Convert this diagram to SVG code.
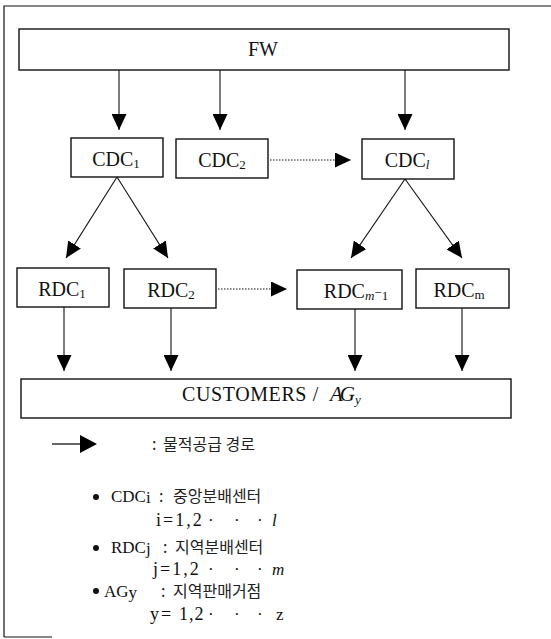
<svg xmlns="http://www.w3.org/2000/svg" width="551" height="639" viewBox="0 0 551 639">
<style>
.box{fill:#fff;stroke:#111;stroke-width:1.4}
.lbl{font-family:"Liberation Serif","Times New Roman",serif;font-size:20px;fill:#111;text-anchor:middle}
.sub{font-size:13px}
.it{font-style:italic}
.ln{stroke:#111;stroke-width:1.1;fill:none}
.dot{stroke:#111;stroke-width:1;stroke-dasharray:1.5 1.5;fill:none}
.lg{font-family:"Liberation Serif","Times New Roman",serif;font-size:17px;fill:#111}
.ko{font-family:"Noto Sans CJK KR","Noto Sans",sans-serif;font-size:16px;fill:#222}
.frame{stroke:#111;stroke-width:1.2;fill:none}
</style>
<defs>
<marker id="ah" markerUnits="userSpaceOnUse" markerWidth="16" markerHeight="15" refX="16" refY="7.5" orient="auto">
<path d="M0,0 L16,7.5 L0,15 z" fill="#000"/>
</marker>
</defs>
<rect width="551" height="639" fill="#fff"/>
<g id="frame">
<path class="frame" d="M4,637 L4,6 L551,6"/>
<path class="frame" d="M4,637 L52,637"/>
</g>
<g id="connectors">
<line class="ln" x1="119" y1="70" x2="119" y2="130" marker-end="url(#ah)"/>
<line class="ln" x1="220" y1="70" x2="220" y2="130" marker-end="url(#ah)"/>
<line class="ln" x1="405" y1="70" x2="405" y2="130" marker-end="url(#ah)"/>
<line class="dot" x1="270" y1="160" x2="351" y2="160" marker-end="url(#ah)"/>
<line class="ln" x1="117" y1="177" x2="66" y2="258" marker-end="url(#ah)"/>
<line class="ln" x1="117" y1="177" x2="168" y2="258" marker-end="url(#ah)"/>
<line class="ln" x1="405" y1="179" x2="351" y2="258" marker-end="url(#ah)"/>
<line class="ln" x1="405" y1="179" x2="462" y2="258" marker-end="url(#ah)"/>
<line class="dot" x1="218" y1="289" x2="287" y2="289" marker-end="url(#ah)"/>
<line class="ln" x1="64" y1="307" x2="64" y2="371" marker-end="url(#ah)"/>
<line class="ln" x1="171" y1="308" x2="171" y2="371" marker-end="url(#ah)"/>
<line class="ln" x1="355" y1="309" x2="355" y2="371" marker-end="url(#ah)"/>
<line class="ln" x1="462" y1="308" x2="462" y2="371" marker-end="url(#ah)"/>
</g>
<g id="FW">
<rect class="box" x="19" y="29" width="490" height="41"/>
<text class="lbl" x="263" y="56">FW</text>
</g>
<g id="CDC1">
<rect class="box" x="71" y="138" width="92" height="39"/>
<text class="lbl" x="116" y="166">CDC<tspan class="sub" dy="2">1</tspan></text>
</g>
<g id="CDC2">
<rect class="box" x="176" y="139" width="92" height="39"/>
<text class="lbl" x="222" y="167">CDC<tspan class="sub" dy="2">2</tspan></text>
</g>
<g id="CDCl">
<rect class="box" x="362" y="139" width="92" height="40"/>
<text class="lbl" x="407" y="167">CDC<tspan class="sub it" dy="2">l</tspan></text>
</g>
<g id="RDC1">
<rect class="box" x="17" y="268" width="92" height="39"/>
<text class="lbl" x="62" y="296">RDC<tspan class="sub" dy="2">1</tspan></text>
</g>
<g id="RDC2">
<rect class="box" x="124" y="269" width="92" height="39"/>
<text class="lbl" x="171" y="297">RDC<tspan class="sub" dy="2">2</tspan></text>
</g>
<g id="RDCm-1">
<rect class="box" x="297" y="270" width="105" height="39"/>
<text class="lbl" x="356" y="298">RDC<tspan class="sub it" dy="2">m</tspan><tspan class="sub" dy="-3">−</tspan><tspan class="sub" dy="3">1</tspan></text>
</g>
<g id="RDCm">
<rect class="box" x="416" y="269" width="93" height="39"/>
<text class="lbl" x="459" y="297">RDC<tspan class="sub" dy="2">m</tspan></text>
</g>
<g id="CUSTOMERS">
<rect class="box" x="21" y="379" width="490" height="39"/>
<text class="lbl" x="182" y="401" style="text-anchor:start" letter-spacing="0.6" xml:space="preserve">CUSTOMERS /  <tspan class="it" font-size="21" letter-spacing="-3">AG</tspan><tspan class="sub it" dx="3" dy="3" font-size="15">y</tspan></text>
</g>
<g id="legend">
<line x1="52" y1="444" x2="81" y2="444" stroke="#111" stroke-width="1.3"/>
<path d="M80,435 L97,444 L80,453 z" fill="#000"/>
<text class="ko" x="152" y="450">:<tspan x="163">물적공급 경로</tspan></text>
<circle cx="96" cy="497" r="3" fill="#111"/>
<text x="111" y="502"><tspan class="lg" font-size="16">CDC</tspan><tspan class="lg" font-size="11" dy="1">i</tspan><tspan class="ko" x="159" dy="-1">:</tspan><tspan class="ko" x="173">중앙분배센터</tspan></text>
<text class="lg" y="526"><tspan x="156" font-size="18" letter-spacing="2">i=1,2</tspan><tspan x="208">·</tspan><tspan x="234">·</tspan><tspan x="257">·</tspan><tspan class="it" x="272">l</tspan></text>
<circle cx="96" cy="548" r="3" fill="#111"/>
<text x="111" y="553"><tspan class="lg" font-size="16">RDC</tspan><tspan class="lg" font-size="11" dy="1">j</tspan><tspan class="ko" x="163" dy="-1">:</tspan><tspan class="ko" x="175">지역분배센터</tspan></text>
<text class="lg" y="575"><tspan x="153" font-size="18" letter-spacing="2">j=1,2</tspan><tspan x="208">·</tspan><tspan x="234">·</tspan><tspan x="257">·</tspan><tspan class="it" x="272">m</tspan></text>
<circle cx="96" cy="591" r="3" fill="#111"/>
<text x="104" y="597"><tspan class="lg" font-size="16">AG</tspan><tspan class="lg" font-size="11" dy="1">y</tspan><tspan class="ko" font-size="11" x="161" dy="-1">:</tspan><tspan class="ko" x="173">지역판매거점</tspan></text>
<text class="lg" y="620"><tspan x="150" font-size="18" letter-spacing="2">y=</tspan><tspan x="179" font-size="18" letter-spacing="1">1,2</tspan><tspan x="208">·</tspan><tspan x="234">·</tspan><tspan x="257">·</tspan><tspan x="276">z</tspan></text>
</g>
</svg>
